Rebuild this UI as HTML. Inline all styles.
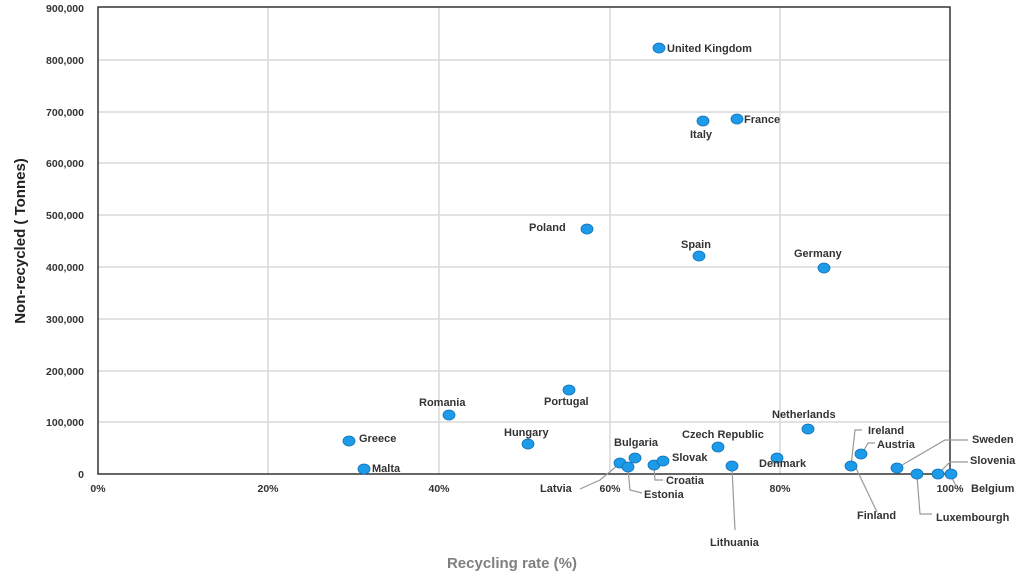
<!DOCTYPE html>
<html><head><meta charset="utf-8"><style>
body{margin:0;background:#fff}
svg text{font-family:"Liberation Sans",sans-serif;font-weight:bold}
</style></head><body>
<svg width="1024" height="574" xmlns="http://www.w3.org/2000/svg">
<g stroke="#d9d9d9" stroke-width="1.5">
<line x1="98" y1="60" x2="950" y2="60"/><line x1="98" y1="112" x2="950" y2="112"/>
<line x1="98" y1="163" x2="950" y2="163"/><line x1="98" y1="215" x2="950" y2="215"/>
<line x1="98" y1="267" x2="950" y2="267"/><line x1="98" y1="319" x2="950" y2="319"/>
<line x1="98" y1="371" x2="950" y2="371"/><line x1="98" y1="422" x2="950" y2="422"/>
<line x1="268" y1="7" x2="268" y2="474"/><line x1="439" y1="7" x2="439" y2="474"/>
<line x1="610" y1="7" x2="610" y2="474"/><line x1="780" y1="7" x2="780" y2="474"/>
</g>
<rect x="98" y="7" width="852" height="467" fill="none" stroke="#333" stroke-width="1.5"/>
<g font-size="10.5" fill="#333" text-anchor="end">
<text x="84" y="12">900,000</text><text x="84" y="64">800,000</text><text x="84" y="116">700,000</text>
<text x="84" y="167">600,000</text><text x="84" y="219">500,000</text><text x="84" y="271">400,000</text>
<text x="84" y="323">300,000</text><text x="84" y="375">200,000</text><text x="84" y="426">100,000</text>
<text x="84" y="478">0</text>
</g>
<g font-size="10.5" fill="#333" text-anchor="middle">
<text x="98" y="492">0%</text><text x="268" y="492">20%</text><text x="439" y="492">40%</text>
<text x="610" y="492">60%</text><text x="780" y="492">80%</text><text x="950" y="492">100%</text>
</g>
<text x="512" y="568" font-size="15" fill="#7f7f7f" text-anchor="middle">Recycling rate (%)</text>
<text transform="translate(25,241) rotate(-90)" font-size="15" fill="#222" text-anchor="middle">Non-recycled ( Tonnes)</text>
<g stroke="#999" stroke-width="1.2" fill="none">
<polyline points="580,489 600,480 618,465"/>
<polyline points="628,469 630,490 642,493"/>
<polyline points="654,467 655,480 663,480"/>
<polyline points="732,468 735,530"/>
<polyline points="855,466 877,512"/>
<polyline points="851,466 855,430 862,430"/>
<polyline points="863,452 868,443 875,443"/>
<polyline points="897,468 945,440 968,440"/>
<polyline points="917,476 920,514 932,514"/>
<polyline points="938,474 950,462 968,462"/>
<polyline points="951,476 956,486"/>
</g>
<g fill="#1e9be8" stroke="#1070b8" stroke-width="0.8">
<ellipse cx="659" cy="48" rx="6" ry="5"/><ellipse cx="703" cy="121" rx="6" ry="5"/>
<ellipse cx="737" cy="119" rx="6" ry="5"/><ellipse cx="587" cy="229" rx="6" ry="5"/>
<ellipse cx="699" cy="256" rx="6" ry="5"/><ellipse cx="824" cy="268" rx="6" ry="5"/>
<ellipse cx="569" cy="390" rx="6" ry="5"/><ellipse cx="449" cy="415" rx="6" ry="5"/>
<ellipse cx="528" cy="444" rx="6" ry="5"/><ellipse cx="349" cy="441" rx="6" ry="5"/>
<ellipse cx="364" cy="469" rx="6" ry="5"/><ellipse cx="635" cy="458" rx="6" ry="5"/>
<ellipse cx="620" cy="463" rx="6" ry="5"/><ellipse cx="628" cy="467" rx="6" ry="5"/>
<ellipse cx="654" cy="465" rx="6" ry="5"/><ellipse cx="663" cy="461" rx="6" ry="5"/>
<ellipse cx="718" cy="447" rx="6" ry="5"/><ellipse cx="732" cy="466" rx="6" ry="5"/>
<ellipse cx="777" cy="458" rx="6" ry="5"/><ellipse cx="808" cy="429" rx="6" ry="5"/>
<ellipse cx="851" cy="466" rx="6" ry="5"/><ellipse cx="861" cy="454" rx="6" ry="5"/>
<ellipse cx="897" cy="468" rx="6" ry="5"/><ellipse cx="917" cy="474" rx="6" ry="5"/>
<ellipse cx="938" cy="474" rx="6" ry="5"/><ellipse cx="951" cy="474" rx="6" ry="5"/>
</g>
<g font-size="11" fill="#333">
<text x="667" y="52">United Kingdom</text>
<text x="690" y="138">Italy</text>
<text x="744" y="123">France</text>
<text x="529" y="231">Poland</text>
<text x="681" y="248">Spain</text>
<text x="794" y="257">Germany</text>
<text x="544" y="405">Portugal</text>
<text x="419" y="406">Romania</text>
<text x="504" y="436">Hungary</text>
<text x="359" y="442">Greece</text>
<text x="372" y="472">Malta</text>
<text x="614" y="446">Bulgaria</text>
<text x="540" y="492">Latvia</text>
<text x="644" y="498">Estonia</text>
<text x="666" y="484">Croatia</text>
<text x="672" y="461">Slovak</text>
<text x="682" y="438">Czech Republic</text>
<text x="710" y="546">Lithuania</text>
<text x="759" y="467">Denmark</text>
<text x="772" y="418">Netherlands</text>
<text x="868" y="434">Ireland</text>
<text x="877" y="448">Austria</text>
<text x="857" y="519">Finland</text>
<text x="972" y="443">Sweden</text>
<text x="970" y="464">Slovenia</text>
<text x="971" y="492">Belgium</text>
<text x="936" y="521">Luxembourgh</text>
</g>
</svg>
</body></html>
